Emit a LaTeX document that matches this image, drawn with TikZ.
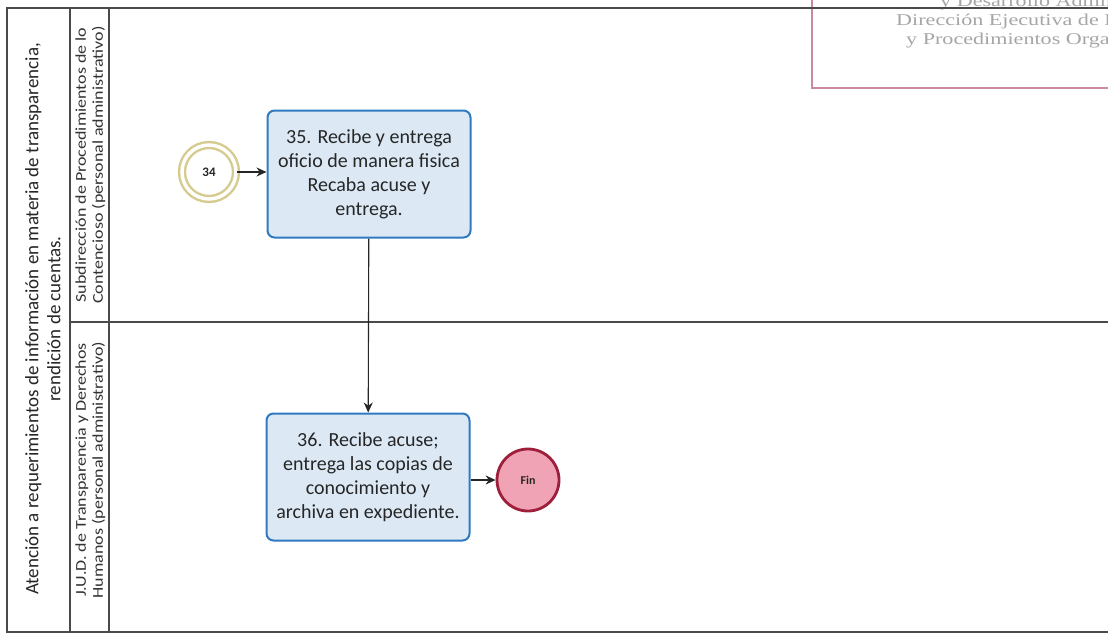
\documentclass[tikz,border=0pt]{standalone}
\usepackage{graphicx}
\usepackage{fontspec}
\setmainfont{Carlito}
\newfontfamily\stampfont{Liberation Serif}
\usetikzlibrary{arrows.meta}
\definecolor{framegray}{HTML}{4A4A4A}
\definecolor{taskfill}{HTML}{DCE9F5}
\definecolor{taskline}{HTML}{2F7AC0}
\definecolor{startline}{HTML}{D6CB8E}
\definecolor{endfill}{HTML}{F1A3B6}
\definecolor{endline}{HTML}{9E1F3C}
\definecolor{stampline}{HTML}{C98A9C}
\definecolor{stamptext}{HTML}{A6A6A6}
% horizontally widened text block
\newcommand{\widetext}[2]{\scalebox{#1}[1]{\begin{tabular}{@{}c@{}}#2\end{tabular}}}
\tikzset{
  frame/.style={draw=framegray, line width=1.4pt},
  task/.style={draw=taskline, fill=taskfill, line width=2pt, rounded corners=7pt,
    minimum width=203pt, minimum height=127pt, align=center, inner sep=2pt,
    font=\fontsize{20}{24}\selectfont, text=black!85},
  startev/.style={circle, draw=startline, double=white, double distance=3.5pt,
    line width=2.4pt, fill=white, minimum size=54pt, inner sep=0pt,
    font=\bfseries\fontsize{13}{15}\selectfont, text=black!85},
  endev/.style={circle, draw=endline, fill=endfill, line width=2.8pt,
    minimum size=62pt, inner sep=0pt, font=\bfseries\fontsize{12}{14}\selectfont, text=black!85},
  flow/.style={draw=black!85, line width=1.1pt, -{Stealth[length=10pt,width=9pt]}},
  titletext/.style={rotate=90, inner sep=0pt, font=\fontsize{19}{22}\selectfont, text=black!85},
  lanetext/.style={rotate=90, inner sep=0pt, font=\fontsize{15}{17}\selectfont, text=black!80},
  stamp/.style={anchor=base west, inner sep=0pt, font=\stampfont\fontsize{16.5}{18}\selectfont, text=stamptext}
}
\begin{document}
\begin{tikzpicture}[x=1pt, y=-1pt]
\useasboundingbox (0,0) rectangle (1108,637);
\clip (0,0) rectangle (1108,637);
\fill[white] (0,0) rectangle (1108,637);

% stamp in the upper right corner
\draw[stampline, line width=1.3pt] (812,-10) -- (812,88) -- (1120,88);
\node[stamp] (st1) at (940,6) {\scalebox{1.34}[1]{y Desarrollo Administrativo}};
\node[stamp] (st2) at (896,25) {\scalebox{1.34}[1]{Dirección Ejecutiva de Dictaminación}};
\node[stamp] (st3) at (906,44) {\scalebox{1.34}[1]{y Procedimientos Organizacionales}};

% pool and lanes
\draw[frame] (1120,8) -- (7,8) -- (7,632) -- (1120,632);
\draw[frame] (70,8) -- (70,632);
\draw[frame] (109,8) -- (109,632);
\draw[frame] (70,322) -- (1120,322);

\node[titletext] (pool) at (45,319) {\widetext{1}{Atención a requerimientos de información en materia de transparencia,\\rendición de cuentas.}};
\node[lanetext] (lane1) at (91,165) {\widetext{1.2}{Subdirección de Procedimientos de lo\\Contencioso (personal administrativo)}};
\node[lanetext] (lane2) at (91,470) {\widetext{1.2}{J.U.D. de Transparencia y Derechos\\Humanos (personal administrativo)}};

% flow elements
\node[startev] (s34) at (209,172) {34};
\node[task] (t35) at (369,174) {35. Recibe y entrega\\oficio de manera fisica\\Recaba acuse y\\entrega.};
\node[task] (t36) at (368,477) {36. Recibe acuse;\\entrega las copias de\\conocimiento y\\archiva en expediente.};
\node[endev] (fin) at (528,480) {Fin};

\draw[flow] (s34) -- (t35.west |- s34);
\draw[flow] (t35) -- (t36);
\draw[flow] (t36.east |- fin) -- (fin);
\end{tikzpicture}
\end{document}
